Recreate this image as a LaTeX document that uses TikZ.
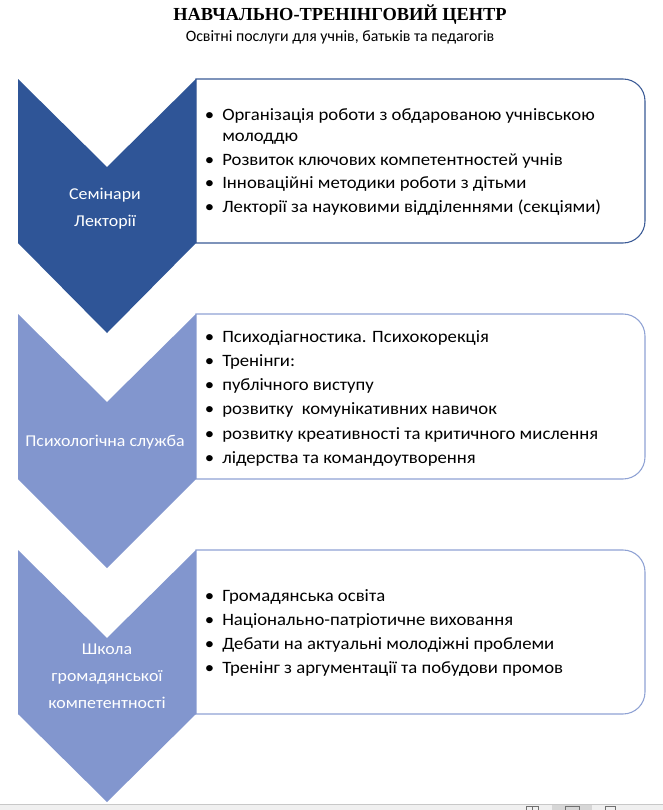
\documentclass[tikz,border=0pt]{standalone}
\usepackage{fontspec}
\setmainfont{Carlito}
\newfontfamily\bodyfont[FakeStretch=1.08]{Carlito}
\newfontfamily\titlefont{Liberation Serif}
\definecolor{dkblue}{HTML}{2F5597}
\definecolor{ltblue}{HTML}{8296CE}
\definecolor{dkedge}{HTML}{3A5A96}
\definecolor{ltedge}{HTML}{8FA2D4}
\definecolor{barbg}{HTML}{F0F0F0}
\definecolor{barline}{HTML}{C8C8C8}
\definecolor{barhi}{HTML}{D6D6D6}
\definecolor{iconc}{HTML}{707070}
\newcommand{\bul}{\hbox to 15pt{\hss•\hskip 6pt}}
\newcommand{\nobul}{\hbox to 15pt{\hss}}
\begin{document}
\begin{tikzpicture}[x=0.75pt,y=-0.75pt,
  itemtxt/.style={anchor=base west, inner sep=0pt, font=\bodyfont\fontsize{13}{15}\selectfont, text=black},
  chevlabel/.style={anchor=base, inner sep=0pt, font=\bodyfont\fontsize{12.4}{15}\selectfont, text=white},
  panelbox/.style={fill=white, line width=0.8pt}]
\path[use as bounding box] (0,0) rectangle (663,810);
\fill[white] (0,0) rectangle (663,810);

% title
\node[anchor=base, inner sep=0pt, font=\titlefont\bfseries\fontsize{13.8}{16}\selectfont] (title) at (340,20) {НАВЧАЛЬНО-ТРЕНІНГОВИЙ ЦЕНТР};
\node[anchor=base, inner sep=0pt, font=\fontsize{11.9}{14}\selectfont] (subtitle) at (340,41) {Освітні послуги для учнів, батьків та педагогів};

% panels (right side rounded)
\draw[panelbox, draw=dkedge] (196,79) -- (623,79) arc(-90:0:22) -- (645,221) arc(0:90:22) -- (196,243) -- cycle;
\draw[panelbox, draw=ltedge] (196,314) -- (623,314) arc(-90:0:22) -- (645,457) arc(0:90:22) -- (196,479) -- cycle;
\draw[panelbox, draw=ltedge] (196,550) -- (623,550) arc(-90:0:22) -- (645,692) arc(0:90:22) -- (196,714) -- cycle;

% chevrons
\fill[dkblue] (18,79) -- (107,167) -- (196,79) -- (196,243) -- (107,333) -- (18,243) -- cycle;
\fill[ltblue] (18,314) -- (107,402) -- (196,314) -- (196,479) -- (107,568) -- (18,479) -- cycle;
\fill[ltblue] (18,550) -- (107,638) -- (196,550) -- (196,714) -- (107,802) -- (18,714) -- cycle;

% chevron labels
\node[chevlabel] (c1a) at (105,199) {Семінари};
\node[chevlabel] (c1b) at (105,226) {Лекторії};
\node[chevlabel] (c2a) at (105,446) {Психологічна служба};
\node[chevlabel] (c3a) at (107,654) {Школа};
\node[chevlabel] (c3b) at (107,681) {громадянської};
\node[chevlabel] (c3c) at (107,708) {компетентності};

% panel 1 items
\node[itemtxt] (p1a) at (202,120) {\bul Організація роботи з обдарованою учнівською};
\node[itemtxt] (p1b) at (202,141) {\nobul молоддю};
\node[itemtxt] (p1c) at (202,165) {\bul Розвиток ключових компетентностей учнів};
\node[itemtxt] (p1d) at (202,188.5) {\bul Інноваційні методики роботи з дітьми};
\node[itemtxt] (p1e) at (202,212) {\bul Лекторії за науковими відділеннями (секціями)};

% panel 2 items
\node[itemtxt] (p2a) at (202,342) {\bul Психодіагностика. Психокорекція};
\node[itemtxt] (p2b) at (202,366) {\bul Тренінги:};
\node[itemtxt] (p2c) at (202,390) {\bul публічного виступу};
\node[itemtxt] (p2d) at (202,414) {\bul розвитку\ \ комунікативних навичок};
\node[itemtxt] (p2e) at (202,439) {\bul розвитку креативності та критичного мислення};
\node[itemtxt] (p2f) at (202,463) {\bul лідерства та командоутворення};

% panel 3 items
\node[itemtxt] (p3a) at (202,601) {\bul Громадянська освіта};
\node[itemtxt] (p3b) at (202,625) {\bul Національно-патріотичне виховання};
\node[itemtxt] (p3c) at (202,649) {\bul Дебати на актуальні молодіжні проблеми};
\node[itemtxt] (p3d) at (202,673) {\bul Тренінг з аргументації та побудови промов};

% status bar strip
\fill[barbg] (0,804) rectangle (663,810);
\draw[barline, line width=0.75pt] (0,804) -- (663,804);
\fill[barhi] (552,804.5) rectangle (592,810);
\draw[iconc, line width=0.6pt] (526,810) -- (526,806.5) -- (538,806.5) -- (538,810);
\draw[iconc, line width=0.6pt] (532,806.5) -- (532,810);
\draw[iconc, line width=0.6pt] (565,810) -- (565,806.5) -- (579,806.5) -- (579,810);
\draw[iconc, line width=0.6pt] (605,810) -- (605,806.5) -- (615,806.5) -- (615,810);
\end{tikzpicture}
\end{document}
